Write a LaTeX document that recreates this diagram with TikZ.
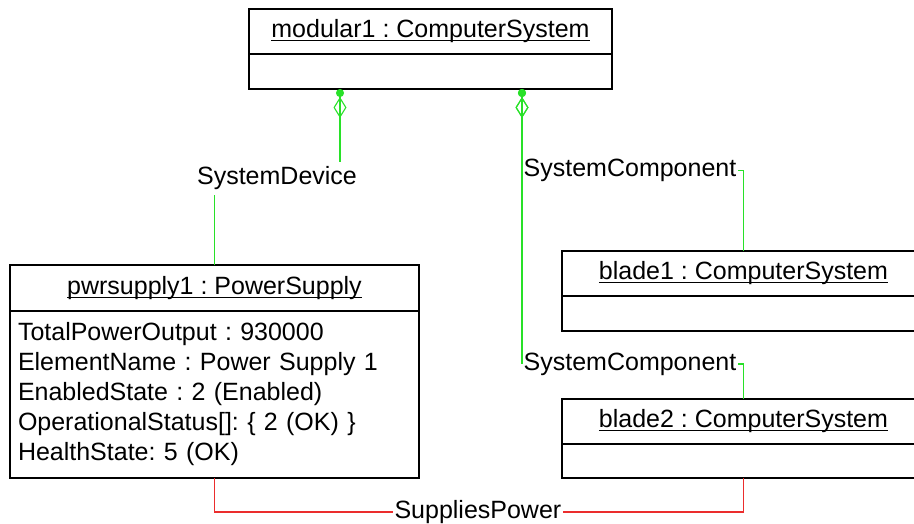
\documentclass[tikz,border=0pt]{standalone}
\usepackage{fontspec}
\setmainfont{Liberation Sans}
\usetikzlibrary{arrows.meta}
\definecolor{assocgreen}{RGB}{40,225,40}
\definecolor{powerred}{RGB}{235,45,45}
\newcommand{\objname}[1]{\setbox0\hbox{#1}\rlap{\rule[-3.5pt]{\wd0}{1.3pt}}\box0}
\frenchspacing

\begin{document}
\begin{tikzpicture}[x=1pt,y=-1pt,
  every node/.style={font=\fontsize{25}{30}\selectfont},
  objhead/.style={draw,line width=1.6pt,inner sep=0pt,outer sep=0pt,minimum width=363pt,minimum height=45pt},
  objbody/.style={draw,line width=1.6pt,inner sep=0pt,outer sep=0pt,minimum width=363pt,anchor=north},
  lbl/.style={inner sep=1.5pt},
  assoc/.style={draw=assocgreen,line width=1.1pt},
  aggr/.style={assoc,{Circle[length=8pt,sep=0pt]Diamond[open,length=21pt,width=13pt]}-},
  supply/.style={draw=powerred,line width=1.1pt}]
\useasboundingbox (0,0) rectangle (914,523);
\clip (0,0) rectangle (914,523);

\node[objhead] (mod) at (430.5,31.5) {\objname{modular1 : ComputerSystem}};
\node[objbody,minimum height=35pt] (modb) at (mod.south) {};
\node[objhead,minimum width=409pt,minimum height=46pt] (pwr) at (214.5,288) {\objname{pwrsupply1 : PowerSupply}};
\node[objbody,minimum width=409pt,minimum height=167pt,text width=393pt,inner xsep=8pt,align=left] (pwrb) at (pwr.south)
  {TotalPowerOutput : 930000\\ElementName : Power Supply 1\\EnabledState : 2 (Enabled)\\OperationalStatus[]: \{ 2 (OK) \}\\HealthState: 5 (OK)};
\node[objhead] (bl1) at (743.5,273.5) {\objname{blade1 : ComputerSystem}};
\node[objbody,minimum height=35pt] (bl1b) at (bl1.south) {};
\node[objhead] (bl2) at (743.5,421.5) {\objname{blade2 : ComputerSystem}};
\node[objbody,minimum height=34pt] (bl2b) at (bl2.south) {};

\node[lbl,inner ysep=5pt] (sd) at (277,178.5) {SystemDevice};
\node[lbl,anchor=west] (sc1) at (522,170.5) {SystemComponent};
\node[lbl,anchor=west] (sc2) at (522,364) {SystemComponent};
\node[lbl,anchor=east] (sp) at (563,512) {SuppliesPower};

\coordinate (devend) at ([xshift=91pt]modb.south west);
\coordinate (compend) at ([xshift=273pt]modb.south west);
\draw[aggr] (devend) -- (devend |- sd.north);
\draw[assoc] (sd.south -| pwr.north) -- (pwr.north);
\draw[aggr] (compend) |- (sc1.west);
\draw[assoc] (sc1.east) -| (bl1.north);
\draw[aggr] (compend) |- (sc2.west);
\draw[assoc] (sc2.east) -| (bl2.north);
\draw[supply] (pwrb.south) |- (sp.west);
\draw[supply] (sp.east) -| (bl2b.south);
\end{tikzpicture}
\end{document}
